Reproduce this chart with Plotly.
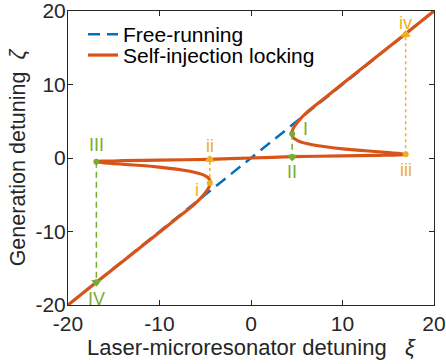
import plotly.graph_objects as go

# ---------------- data ----------------
xi_free = [-20, 20]
zeta_free = [-20, 20]

xi_sil = [-20, -16.9, -11.0, -8.0, -6.1, -5.1, -4.65, -4.45, -4.6, -5.2, -6.7, -10.3, -14.0, -16.2, -16.9,
          -16.2, -14.0, -10.0, -4.5, 0.0, 4.5, 10.0, 14.0, 16.2, 16.9,
          16.2, 14.0, 10.3, 6.7, 5.2, 4.6, 4.45, 4.65, 5.1, 6.1, 8.0, 11.0, 16.9, 20]
zeta_sil = [-20, -16.9, -11.1, -8.1, -6.2, -4.9, -4.1, -3.4, -2.8, -2.3, -1.8, -1.2, -0.85, -0.62, -0.5,
            -0.43, -0.36, -0.28, -0.18, 0.0, 0.18, 0.28, 0.36, 0.43, 0.5,
            0.62, 0.85, 1.2, 1.8, 2.3, 2.8, 3.4, 4.1, 4.9, 6.2, 8.1, 11.1, 16.9, 20]

# yellow transitions (forward scan): i -> ii, iii -> iv
yel_labels = ["i", "ii", "iii", "iv"]
yel_xi = [-4.5, -4.5, 16.9, 16.9]
yel_zeta = [-3.4, -0.2, 0.5, 16.8]

# green transitions (backward scan): I -> II, III -> IV
grn_labels = ["I", "II", "III", "IV"]
grn_xi = [4.5, 4.5, -16.9, -16.9]
grn_zeta = [3.3, 0.15, -0.5, -16.9]

x_ticks = [-20, -10, 0, 10, 20]
x_ticktext = ["-20", "-10", "0", "10", "20"]
y_ticks = [-20, -10, 0, 10, 20]
y_ticktext = ["-20", "-10", "0", "10", "20"]

BLUE = "#0072BD"
ORANGE = "#D95319"
YEL = "#EDB120"
GRN = "#77AC30"
TXT = "#262626"
FONT = "Liberation Sans, Arial, sans-serif"

fig = go.Figure()

fig.add_trace(go.Scatter(x=xi_free, y=zeta_free, mode="lines", name="Free-running",
                         legend="legend",
                         line=dict(color=BLUE, width=2.5, dash="12px,7px")))
fig.add_trace(go.Scatter(x=xi_sil, y=zeta_sil, mode="lines", name="Self-injection locking",
                         legend="legend2",
                         line=dict(color=ORANGE, width=3.2, shape="spline", smoothing=0.8)))


def transition(xs, ys, color, dash, sym):
    for k in (0, 2):
        fig.add_trace(go.Scatter(x=[xs[k], xs[k + 1]], y=[ys[k], ys[k + 1]], mode="lines",
                                 line=dict(color=color, width=1.5, dash=dash),
                                 showlegend=False, hoverinfo="skip"))
        fig.add_trace(go.Scatter(x=[xs[k + 1]], y=[ys[k + 1]], mode="markers",
                                 marker=dict(symbol=sym, size=9, color=color),
                                 showlegend=False, hoverinfo="skip"))
    fig.add_trace(go.Scatter(x=xs, y=ys, mode="markers",
                             marker=dict(symbol="circle", size=6, color=color),
                             showlegend=False, hoverinfo="skip"))


transition(yel_xi, yel_zeta, YEL, "dot", "triangle-up")
transition(grn_xi, grn_zeta, GRN, "6px,4px", "triangle-down")

# labels
yel_off = [(-1.4, -1.0), (0, 1.9), (0, -2.1), (0, 1.6)]
grn_off = [(1.5, 0.6), (0, -2.1), (0, 2.3), (0, -2.3)]
for lab, x, y, (dx, dy) in zip(yel_labels, yel_xi, yel_zeta, yel_off):
    fig.add_annotation(x=x + dx, y=y + dy, text=lab, showarrow=False,
                       font=dict(color=YEL, size=18, family=FONT))
for lab, x, y, (dx, dy) in zip(grn_labels, grn_xi, grn_zeta, grn_off):
    fig.add_annotation(x=x + dx, y=y + dy, text=lab, showarrow=False,
                       font=dict(color=GRN, size=18, family=FONT))

axis_common = dict(range=[-20, 20], showgrid=False, zeroline=False, showline=True,
                   linecolor=TXT, linewidth=1, mirror="ticks", ticks="inside",
                   ticklen=5, tickcolor=TXT, automargin=False, ticklabeloverflow="allow",
                   tickfont=dict(size=21, color=TXT, family=FONT))

fig.update_xaxes(**axis_common, tickvals=x_ticks, ticktext=x_ticktext,
                 title=dict(text="Laser-microresonator detuning&nbsp;&nbsp;&nbsp;<i>ξ</i>", standoff=5,
                            font=dict(size=22, color=TXT, family=FONT)))
fig.update_yaxes(**axis_common, tickvals=y_ticks, ticktext=y_ticktext, ticklabelstandoff=-3,
                 title=dict(text="Generation detuning&nbsp;&nbsp;<i>ζ</i>", standoff=3,
                            font=dict(size=21.5, color=TXT, family=FONT)))

leg_common = dict(x=0.041, xanchor="left", yanchor="middle", bgcolor="rgba(0,0,0,0)",
                  font=dict(size=21, color="#000000", family=FONT))
fig.update_layout(
    width=446, height=364,
    margin=dict(l=68, r=12, t=11, b=59),
    plot_bgcolor="white", paper_bgcolor="white",
    font=dict(family=FONT, color=TXT),
    legend=dict(y=0.92, **leg_common),
    legend2=dict(y=0.849, **leg_common),
)

fig.write_html("out.html", config={"displayModeBar": False},
               post_script="document.body.style.margin='0px';document.body.style.overflow='hidden';")
